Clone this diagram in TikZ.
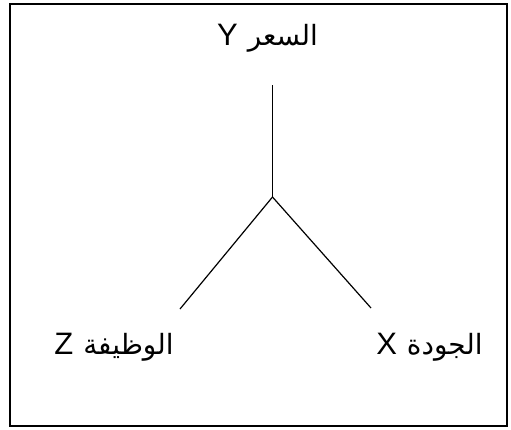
\documentclass[tikz,border=0pt]{standalone}
\usepackage{fontspec}
\setmainfont{Liberation Sans}
\newfontfamily\arabicfont[Script=Arabic,Scale=0.9]{DejaVu Sans}
\TeXXeTstate=1
\begin{document}
\begin{tikzpicture}[x=1pt,y=-1pt,
  lbl/.style={inner sep=0pt, anchor=base, font=\fontsize{31}{36}\selectfont},
  conn/.style={line width=1.2pt},
  frame/.style={line width=2pt}]
\useasboundingbox (0,0) rectangle (511,429);
\draw[frame] (10,3.5) rectangle (506.5,426);
\node[lbl] (Y) at (267.5,45) {Y\hspace{10pt}{\arabicfont\beginR السعر\endR}};
\node[lbl] (Z) at (114,354) {Z\hspace{10pt}{\arabicfont\beginR الوظيفة\endR}};
\node[lbl] (X) at (429.5,354) {X\hspace{10pt}{\arabicfont\beginR الجودة\endR}};
\coordinate (top) at (272.5,85);
\coordinate (j) at (272.5,197);
\coordinate (zl) at (180,309);
\coordinate (xr) at (371,308);
\draw[conn] (top) -- (j);
\draw[conn] (j) -- (zl);
\draw[conn] (j) -- (xr);
\end{tikzpicture}
\end{document}
